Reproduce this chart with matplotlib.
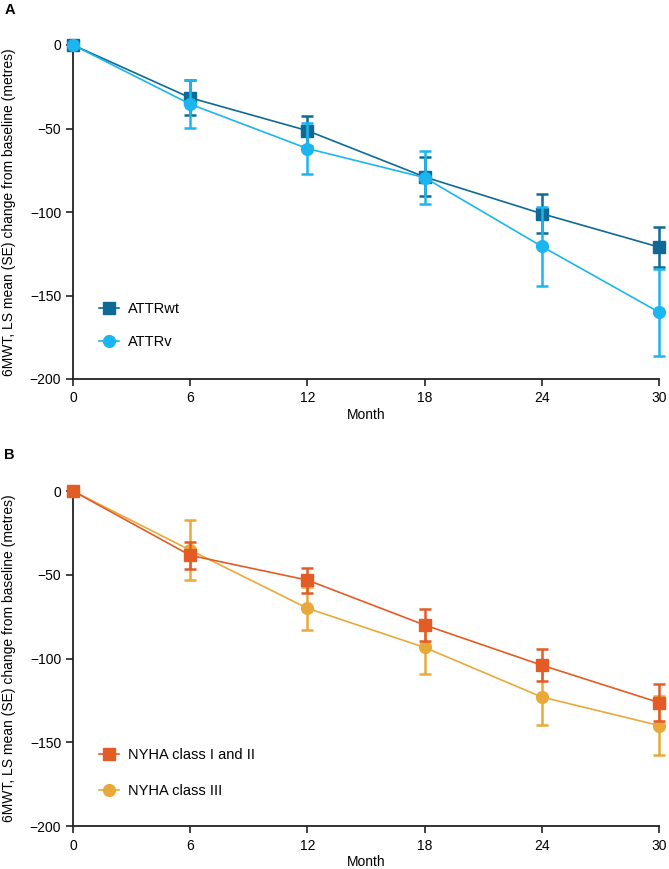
import matplotlib
matplotlib.use('Agg')
import matplotlib.pyplot as plt
from matplotlib.lines import Line2D

plt.rcParams['font.family'] = ['Liberation Sans', 'DejaVu Sans']

months = [0, 6, 12, 18, 24, 30]

# panel A
wt_mean = [0, -31.6, -51.3, -79, -101, -121]
wt_se = [0, 10.5, 9, 11.7, 11.5, 12]
v_mean = [0, -35.4, -62, -79.4, -120.6, -160]
v_se = [0, 14.5, 15, 16, 23.5, 26]

# panel B
ny12_mean = [0, -38.4, -53.2, -80, -104, -126.3]
ny12_se = [0, 8, 7.4, 9.4, 9.5, 11]
ny3_mean = [0, -35.3, -70, -93.4, -123, -140]
ny3_se = [0, 17.8, 12.7, 16, 16.5, 17.5]

ylabel = '6MWT, LS mean (SE) change from baseline (metres)'

fig = plt.figure(figsize=(6.69, 8.69), dpi=100)
H = 869.0
W = 669.0
left = 73 / W
width = (659 - 73) / W
axA = fig.add_axes([left, 1 - 379 / H, width, 334 / H])
axB = fig.add_axes([left, 1 - 826 / H, width, 335 / H])


def draw_series(ax, y, err, color, marker, ms, z):
    ax.errorbar(months, y, yerr=err, color=color, marker=marker, ms=ms,
                lw=1.2, elinewidth=1.8, capsize=4.3, capthick=1.8,
                clip_on=False, zorder=z)


def style(ax):
    ax.set_xlim(0, 30)
    ax.set_ylim(-200, 0)
    ax.set_xticks(months)
    ax.set_yticks([0, -50, -100, -150, -200])
    for s in ['top', 'right']:
        ax.spines[s].set_visible(False)
    for s in ['left', 'bottom']:
        ax.spines[s].set_linewidth(1.3)
        ax.spines[s].set_color('#222222')
    ax.tick_params(length=5, width=1.2, labelsize=10, color='#222222')
    ax.tick_params(axis='x', pad=4)
    ax.set_xlabel('Month', fontsize=10)
    ax.xaxis.set_label_coords(0.5, -29 / 334)
    ax.set_ylabel(ylabel, fontsize=10)
    ax.yaxis.set_label_coords(-57 / 586, 0.5)


c_wt = '#0e6a94'
c_v = '#1bb6ef'
draw_series(axA, wt_mean, wt_se, c_wt, 's', 8.5, 3)
draw_series(axA, v_mean, v_se, c_v, 'o', 8.5, 4)
style(axA)
hA = [Line2D([], [], color=c_wt, marker='s', ms=8.5, lw=1.2),
      Line2D([], [], color=c_v, marker='o', ms=8.5, lw=1.2)]
axA.legend(hA, ['ATTRwt', 'ATTRv'], loc='lower left',
           bbox_to_anchor=(0.022, 0.05), frameon=False, fontsize=10.5,
           handlelength=1.4, labelspacing=1.3, handletextpad=0.6)

c_12 = '#e35b25'
c_3 = '#e9a93a'
draw_series(axB, ny3_mean, ny3_se, c_3, 'o', 8.5, 3)
draw_series(axB, ny12_mean, ny12_se, c_12, 's', 8.5, 4)
style(axB)
hB = [Line2D([], [], color=c_12, marker='s', ms=8.5, lw=1.2),
      Line2D([], [], color=c_3, marker='o', ms=8.5, lw=1.2)]
axB.legend(hB, ['NYHA class I and II', 'NYHA class III'], loc='lower left',
           bbox_to_anchor=(0.022, 0.045), frameon=False, fontsize=10.5,
           handlelength=1.4, labelspacing=1.5, handletextpad=0.6)

fig.text(10 / W, 1 - 10 / H, 'A', fontsize=10.5, fontweight='bold',
         ha='center', va='center')
fig.text(9 / W, 1 - 455 / H, 'B', fontsize=10.5, fontweight='bold',
         ha='center', va='center')

fig.savefig('out.png', dpi=100)
